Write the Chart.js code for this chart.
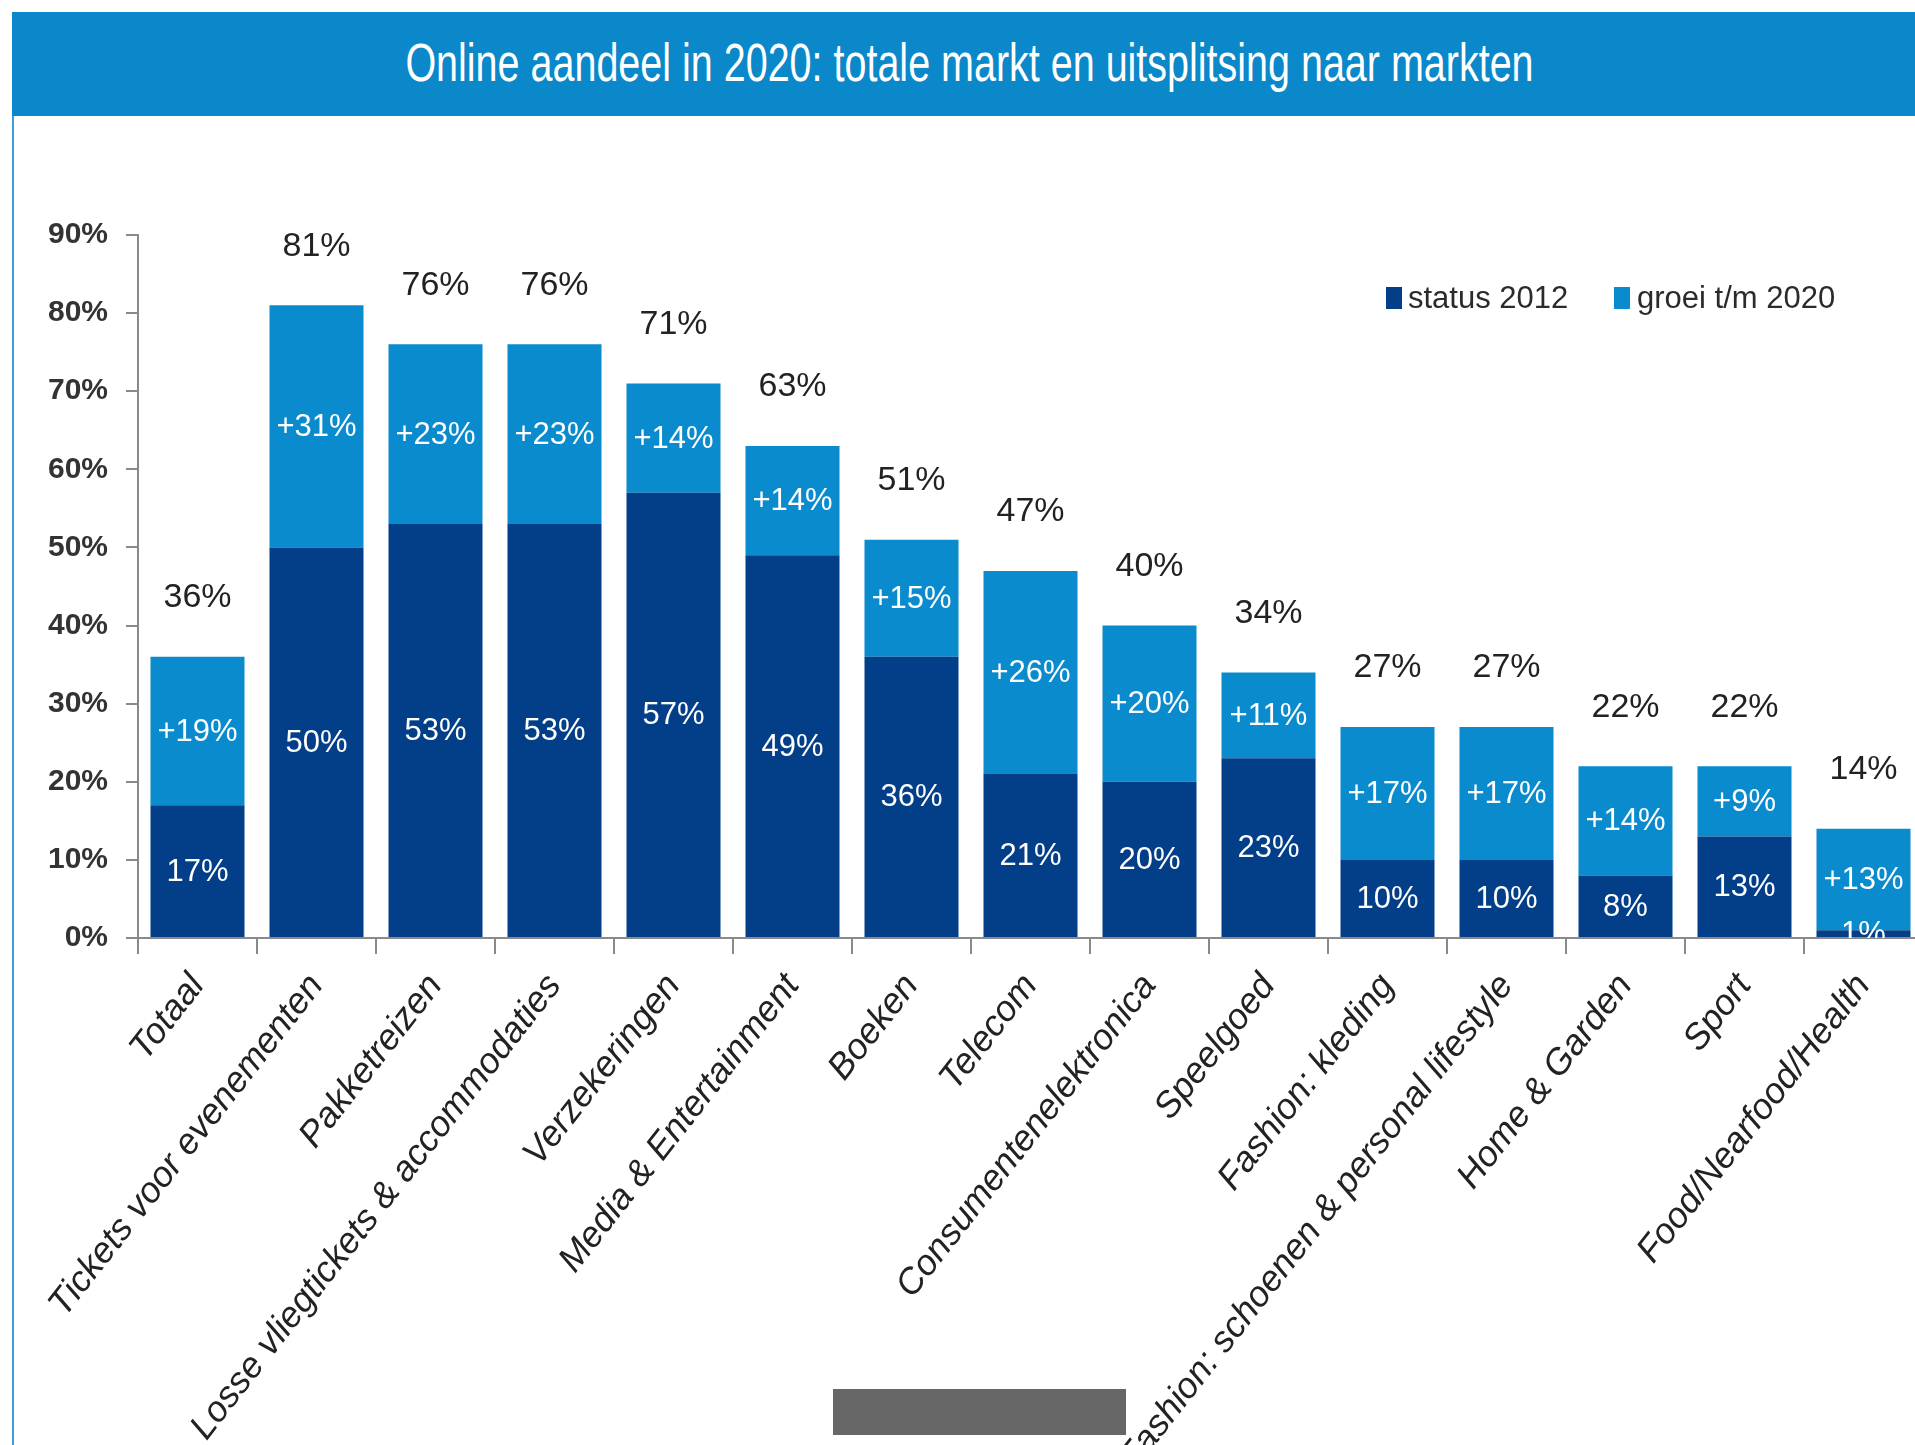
<!DOCTYPE html>
<html>
<head>
<meta charset="utf-8">
<script src="https://cdn.jsdelivr.net/npm/chart.js@4/dist/chart.umd.min.js"></script>
<style>
html,body{margin:0;padding:0;width:1915px;height:1445px;overflow:hidden;background:#fff;}
#titlebar{position:absolute;left:12px;top:12px;width:1903px;height:104px;background:#0a88c9;overflow:hidden;}
#titlebar span{position:absolute;left:6px;width:1903px;top:-1px;line-height:104px;text-align:center;color:#fff;font-family:'Liberation Sans',Arial,sans-serif;font-size:53px;transform:scaleX(0.745);transform-origin:50% 50%;white-space:nowrap;}
#leftline{position:absolute;left:12px;top:116px;width:2px;height:1329px;background:#3f9fd6;}
#wrap{position:absolute;left:0;top:0;width:1930px;height:1445px;}
#legend{position:absolute;left:0;top:0;}
.lg-box{position:absolute;width:16px;height:22px;}
.lg-txt{position:absolute;font-family:'Liberation Sans',Arial,sans-serif;font-size:31px;color:#2b2b2b;line-height:36px;white-space:nowrap;}
#grayrect{position:absolute;left:833px;top:1389px;width:293px;height:46px;background:#676767;}
</style>
</head>
<body>
<div id="titlebar"><span>Online aandeel in 2020: totale markt en uitsplitsing naar markten</span></div>
<div id="leftline"></div>
<div id="wrap"><canvas id="c" width="1930" height="1445"></canvas></div>
<div id="legend"></div>
<div id="grayrect"></div>
<script>
const categories = [
  'Totaal',
  'Tickets voor evenementen',
  'Pakketreizen',
  'Losse vliegtickets & accommodaties',
  'Verzekeringen',
  'Media & Entertainment',
  'Boeken',
  'Telecom',
  'Consumentenelektronica',
  'Speelgoed',
  'Fashion: kleding',
  'Fashion: schoenen & personal lifestyle',
  'Home & Garden',
  'Sport',
  'Food/Nearfood/Health'
];
const status2012 = [17, 50, 53, 53, 57, 49, 36, 21, 20, 23, 10, 10, 8, 13, 1];
const groei2020  = [19, 31, 23, 23, 14, 14, 15, 26, 20, 11, 17, 17, 14, 9, 13];
const totalLabels = [36, 81, 76, 76, 71, 63, 51, 47, 40, 34, 27, 27, 22, 22, 14];
const seriesNames = ['status 2012', 'groei t/m 2020'];
const seriesColors = ['#023f88', '#0a8bcd'];
const yTickValues = [0, 10, 20, 30, 40, 50, 60, 70, 80, 90];

const FONT = "'Liberation Sans', Arial, sans-serif";

const barLabels = {
  id: 'barLabels',
  afterDatasetsDraw(chart) {
    const ctx = chart.ctx;
    const ca = chart.chartArea;
    ctx.save();
    ctx.beginPath();
    ctx.rect(ca.left, 0, ca.right - ca.left, ca.bottom);
    ctx.clip();
    ctx.textAlign = 'center';
    ctx.textBaseline = 'middle';
    ctx.fillStyle = '#ffffff';
    ctx.font = '31px ' + FONT;
    chart.data.datasets.forEach((ds, i) => {
      chart.getDatasetMeta(i).data.forEach((bar, j) => {
        const v = ds.data[j];
        const txt = (i === 1 ? '+' : '') + v + '%';
        ctx.fillText(txt, bar.x, (bar.y + bar.base) / 2 + 1);
      });
    });
    ctx.fillStyle = '#222222';
    ctx.font = '34px ' + FONT;
    chart.getDatasetMeta(1).data.forEach((bar, j) => {
      ctx.fillText(totalLabels[j] + '%', bar.x, bar.y - 59);
    });
    ctx.restore();
  }
};

const chart = new Chart(document.getElementById('c'), {
  type: 'bar',
  data: {
    labels: categories,
    datasets: [
      { label: seriesNames[0], data: status2012, backgroundColor: seriesColors[0], barPercentage: 0.79, categoryPercentage: 1.0 },
      { label: seriesNames[1], data: groei2020, backgroundColor: seriesColors[1], barPercentage: 0.79, categoryPercentage: 1.0 }
    ]
  },
  options: {
    responsive: false,
    animation: false,
    layout: { padding: { top: 235, left: 0, right: 7, bottom: 0 } },
    plugins: { legend: { display: false }, tooltip: { enabled: false }, title: { display: false } },
    scales: {
      x: {
        stacked: true,
        afterFit(scale) { scale.height = 1445 - 938; },
        grid: { drawOnChartArea: false, offset: true, tickLength: 16, color: '#8a8a8a', lineWidth: 2 },
        border: { color: '#8a8a8a', width: 2 },
        ticks: {
          autoSkip: false, maxRotation: 52, minRotation: 52, padding: 12,
          color: '#222222',
          font: { family: FONT, size: 36, style: 'italic' }
        }
      },
      y: {
        stacked: true,
        min: 0, max: 90,
        afterFit(scale) { scale.width = 138; },
        afterBuildTicks(scale) { scale.ticks = yTickValues.map(v => ({ value: v })); },
        grid: { drawOnChartArea: false, tickLength: 12, color: '#8a8a8a', lineWidth: 2 },
        border: { color: '#8a8a8a', width: 2 },
        ticks: {
          padding: 18,
          color: '#333333',
          font: { family: FONT, size: 30, weight: 'bold' },
          callback: v => v + '%'
        }
      }
    }
  },
  plugins: [barLabels]
});

// legend built from the datasets
const legendPos = [{ box: 1386, txt: 1408 }, { box: 1614, txt: 1637 }];
const lg = document.getElementById('legend');
chart.data.datasets.forEach((ds, i) => {
  const b = document.createElement('div');
  b.className = 'lg-box';
  b.style.left = legendPos[i].box + 'px';
  b.style.top = '287px';
  b.style.background = ds.backgroundColor;
  lg.appendChild(b);
  const t = document.createElement('div');
  t.className = 'lg-txt';
  t.style.left = legendPos[i].txt + 'px';
  t.style.top = '280px';
  t.textContent = ds.label;
  lg.appendChild(t);
});
</script>
</body>
</html>
